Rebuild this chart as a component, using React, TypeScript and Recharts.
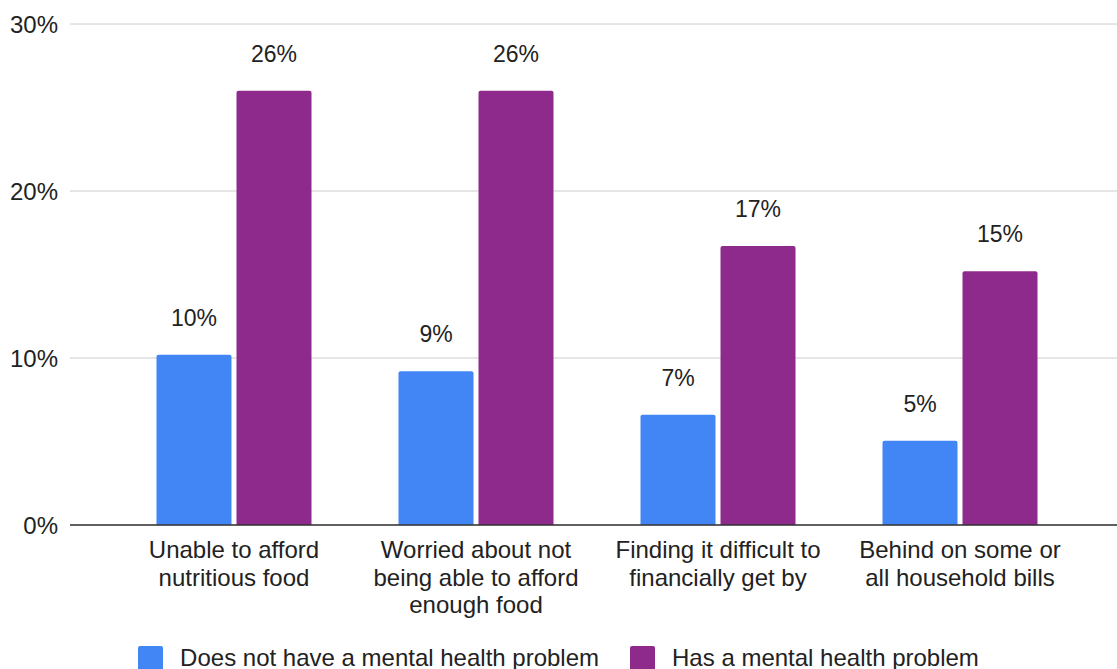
import { BarChart, Bar, XAxis, YAxis, CartesianGrid, Legend, LabelList } from 'recharts';

const categories = [
    'Unable to afford\nnutritious food',
    'Worried about not\nbeing able to afford\nenough food',
    'Finding it difficult to\nfinancially get by',
    'Behind on some or\nall household bills',
];
const noProblem = [10.2, 9.2, 6.6, 5.05];
const hasProblem = [26.0, 26.0, 16.7, 15.2];
const yTicks = [0, 10, 20, 30];

const seriesNames = ['Does not have a mental health problem', 'Has a mental health problem'];
const colors = ['#4285F4', '#8E2A8B'];

const data = categories.map((c, i) => ({ name: c, a: noProblem[i], b: hasProblem[i] }));

const font = '"Liberation Sans", Arial, sans-serif';

const CategoryTick = (props: any) => {
    const { x, y, payload } = props;
    const lines = String(payload.value).split('\n');
    return (
        <text x={x} y={y} textAnchor="middle" fill="#222" fontSize={24} fontFamily={font}>
            {lines.map((l, i) => (
                <tspan key={i} x={x} y={y + 33 + i * 27.5}>
                    {l}
                </tspan>
            ))}
        </text>
    );
};

const LegendBox = () => (
    <div style={{ display: 'flex', justifyContent: 'center', alignItems: 'center', fontFamily: font, fontSize: 24, color: '#222' }}>
        {seriesNames.map((n, i) => (
            <div key={n} style={{ display: 'flex', alignItems: 'center', marginLeft: i ? 31 : 0 }}>
                <span style={{ width: 25, height: 25, background: colors[i], borderRadius: 2, marginRight: 17, display: 'inline-block' }} />
                <span>{n}</span>
            </div>
        ))}
    </div>
);

export default function App() {
    return (
        <div style={{ position: 'absolute', left: 0, top: 0, background: '#fff' }}>
            <BarChart
                width={1117}
                height={669}
                data={data}
                margin={{ top: 24, right: 0, bottom: 0, left: 0 }}
                barCategoryGap={43.5}
                barGap={5}
            >
                <CartesianGrid vertical={false} stroke="#cccccc" />
                <YAxis
                    width={70}
                    domain={[0, 30]}
                    ticks={yTicks}
                    tickFormatter={(v: number) => `${v}%`}
                    axisLine={false}
                    tickLine={false}
                    tickSize={0}
                    tickMargin={12}
                    tick={{ fill: '#222', fontSize: 24, fontFamily: font }}
                />
                <XAxis
                    dataKey="name"
                    height={118}
                    padding={{ left: 43, right: 36 }}
                    axisLine={{ stroke: '#333', strokeWidth: 1.5 }}
                    tickLine={false}
                    tickSize={0}
                    tickMargin={0}
                    tick={<CategoryTick />}
                    interval={0}
                />
                <Legend
                    content={<LegendBox />}
                    wrapperStyle={{ position: 'absolute', top: 644, left: 0, width: 1117, height: 26 }}
                />
                <Bar dataKey="a" name={seriesNames[0]} fill={colors[0]} radius={[2, 2, 0, 0]} isAnimationActive={false}>
                    <LabelList
                        dataKey="a"
                        position="top"
                        offset={29}
                        formatter={(v: any) => `${Math.round(v)}%`}
                        style={{ fill: '#222', fontSize: 23, fontFamily: font }}
                    />
                </Bar>
                <Bar dataKey="b" name={seriesNames[1]} fill={colors[1]} radius={[2, 2, 0, 0]} isAnimationActive={false}>
                    <LabelList
                        dataKey="b"
                        position="top"
                        offset={29}
                        formatter={(v: any) => `${Math.round(v)}%`}
                        style={{ fill: '#222', fontSize: 23, fontFamily: font }}
                    />
                </Bar>
            </BarChart>
        </div>
    );
}
